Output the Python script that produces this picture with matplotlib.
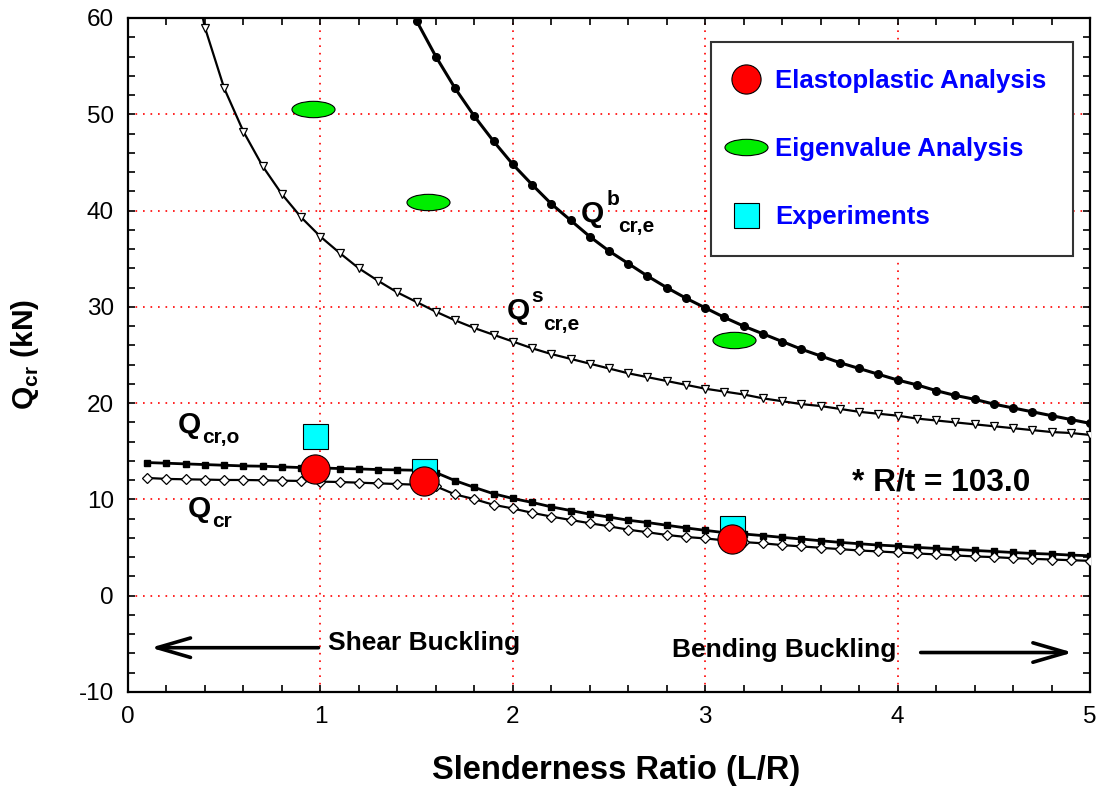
import numpy as np
import matplotlib
matplotlib.use("Agg")
import matplotlib.pyplot as plt
from matplotlib.lines import Line2D
from matplotlib.path import Path
from matplotlib.transforms import Affine2D

# ── Data ──────────────────────────────────────────────────────────────────────

# elastic bending buckling, Q^b_cr,e  (L/R = 1.5 .. 5.0)
x_bend = np.round(np.arange(1.5, 5.001, 0.1), 1)
q_bend = [59.7, 56.0, 52.7, 49.8, 47.2, 44.8, 42.7, 40.7, 39.0, 37.3,
          35.8, 34.5, 33.2, 32.0, 30.9, 29.9, 28.9, 28.0, 27.2, 26.4,
          25.6, 24.9, 24.2, 23.6, 23.0, 22.4, 21.9, 21.3, 20.8, 20.4,
          19.9, 19.5, 19.1, 18.7, 18.3, 17.9]

# elastic shear buckling, Q^s_cr,e  (L/R = 0.3 .. 5.0)
x_shear = np.round(np.arange(0.3, 5.001, 0.1), 1)
q_shear = [68.1, 59.0, 52.7, 48.2, 44.6, 41.7, 39.3, 37.3, 35.6, 34.0,
           32.7, 31.5, 30.5, 29.5, 28.6, 27.8, 27.1, 26.4, 25.7, 25.1,
           24.6, 24.1, 23.6, 23.1, 22.7, 22.3, 21.9, 21.5, 21.2, 20.9,
           20.5, 20.2, 19.9, 19.7, 19.4, 19.1, 18.9, 18.7, 18.4, 18.2,
           18.0, 17.8, 17.6, 17.4, 17.2, 17.0, 16.9, 16.7]

# Q_cr,o and Q_cr  (L/R = 0.1 .. 5.0)
x_cr = np.round(np.arange(0.1, 5.001, 0.1), 1)
q_cro = [13.83, 13.76, 13.69, 13.62, 13.55, 13.48, 13.45, 13.38, 13.31, 13.27,
         13.21, 13.17, 13.10, 13.07, 13.03, 12.79, 11.95, 11.25, 10.59, 10.10,
         9.69, 9.23, 8.85, 8.47, 8.17, 7.84, 7.60, 7.32, 7.04, 6.79,
         6.55, 6.41, 6.24, 6.06, 5.89, 5.71, 5.54, 5.40, 5.26, 5.16,
         5.02, 4.91, 4.81, 4.70, 4.60, 4.49, 4.39, 4.32, 4.22, 4.15]
q_cr = [12.23, 12.13, 12.09, 12.06, 12.02, 12.02, 11.99, 11.95, 11.92, 11.85,
        11.81, 11.74, 11.67, 11.60, 11.53, 11.36, 10.52, 10.03, 9.44, 9.06,
        8.61, 8.22, 7.87, 7.53, 7.21, 6.86, 6.59, 6.31, 6.10, 5.95,
        5.75, 5.57, 5.44, 5.26, 5.12, 4.98, 4.84, 4.70, 4.60, 4.49,
        4.39, 4.29, 4.18, 4.08, 4.01, 3.90, 3.83, 3.76, 3.69, 3.62]

# discrete results
x_elasto = [0.97, 1.54, 3.14]
q_elasto = [13.2, 11.9, 5.9]
x_eigen = [0.96, 1.56, 3.15]
q_eigen = [50.6, 40.9, 26.6]
x_exp = [0.97, 1.54, 3.14]
q_exp = [16.6, 13.0, 7.0]

# ── Style ─────────────────────────────────────────────────────────────────────

plt.rcParams["font.family"] = ["Liberation Sans", "DejaVu Sans"]
plt.rcParams["mathtext.fontset"] = "custom"
plt.rcParams["mathtext.bf"] = "Liberation Sans:bold"
plt.rcParams["mathtext.rm"] = "Liberation Sans"
plt.rcParams["axes.unicode_minus"] = False

ellipse_marker = Path.unit_circle().transformed(Affine2D().scale(1.0, 0.38))

fig = plt.figure(figsize=(11.01, 7.98), dpi=100)
ax = fig.add_axes([128 / 1101, 1 - 692 / 798, (1090 - 128) / 1101, (692 - 18) / 798])

# curves
ax.plot(x_bend, q_bend, color="black", lw=2.2, marker="o", ms=5.5,
        mfc="black", mec="black", zorder=3)
ax.plot(x_shear, q_shear, color="black", lw=1.6, marker="v", ms=6,
        mfc="white", mec="black", mew=0.9, zorder=3)
ax.plot(x_cr, q_cro, color="black", lw=2.0, marker="s", ms=5,
        mfc="black", mec="black", zorder=3)
ax.plot(x_cr, q_cr, color="black", lw=1.6, marker="D", ms=4.8,
        mfc="white", mec="black", mew=0.9, zorder=3)

# discrete points
ax.plot(x_eigen, q_eigen, ls="none", marker=ellipse_marker, ms=31,
        mfc="#00ee00", mec="black", mew=0.8, zorder=4)
ax.plot(x_exp, q_exp, ls="none", marker="s", ms=18,
        mfc="cyan", mec="black", mew=0.8, zorder=4)
ax.plot(x_elasto, q_elasto, ls="none", marker="o", ms=21,
        mfc="red", mec="black", mew=0.8, zorder=5)

# axes
ax.set_xlim(0, 5)
ax.set_ylim(-10, 60)
ax.set_xticks(np.arange(0, 5.1, 1))
ax.set_xticks(np.arange(0, 5.01, 0.2), minor=True)
ax.set_yticks(np.arange(-10, 61, 10))
ax.set_yticks(np.arange(-10, 61, 2), minor=True)
ax.tick_params(which="both", direction="in", top=True, right=True,
               length=5, width=1.2)
ax.tick_params(labelsize=17.5, pad=10)
ax.grid(True, which="major", color="red", ls=(0, (1, 3.5)), lw=1.2)
for sp in ax.spines.values():
    sp.set_linewidth(1.6)

ax.set_xlabel("Slenderness Ratio (L/R)", fontsize=23.5, fontweight="bold")
ax.xaxis.set_label_coords(0.507, -0.094)
ax.set_ylabel(r"$\mathbf{Q}_{\mathbf{cr}}$ (kN)", fontsize=21.5, fontweight="bold")
ax.yaxis.set_label_coords(-0.09, 0.5)


# curve labels: big Q with superscript / subscript placed by offset
def q_label(x, y, sub, sup=None):
    kw = dict(textcoords="offset points", fontweight="bold", va="baseline", ha="left")
    ax.annotate("Q", xy=(x, y), xytext=(0, 0), fontsize=21.5, **kw)
    if sup:
        ax.annotate(sup, xy=(x, y), xytext=(18, 12.3), fontsize=15, **kw)
        ax.annotate(sub, xy=(x, y), xytext=(26.5, -7.3), fontsize=15, **kw)
    else:
        ax.annotate(sub, xy=(x, y), xytext=(17.5, -7.5), fontsize=15, **kw)


q_label(2.355, 38.85, "cr,e", "b")
q_label(1.968, 28.7, "cr,e", "s")
q_label(0.26, 16.9, "cr,o")
q_label(0.313, 8.2, "cr")
ax.text(3.763, 10.9, "* R/t = 103.0", fontsize=22.8, fontweight="bold")

# buckling mode arrows
arrow_kw = dict(arrowstyle="->,head_length=1.2,head_width=0.35", lw=2.6,
                color="black", mutation_scale=20, shrinkA=0, shrinkB=0)
ax.annotate("", xy=(0.118, -5.4), xytext=(0.99, -5.4), arrowprops=arrow_kw)
ax.annotate("", xy=(4.91, -5.9), xytext=(4.12, -5.9), arrowprops=arrow_kw)
ax.text(1.04, -4.9, "Shear Buckling", fontsize=19, fontweight="bold", va="center")
ax.text(2.83, -5.6, "Bending Buckling", fontsize=19, fontweight="bold", va="center")

# legend
handles = [
    Line2D([], [], ls="none", marker="o", ms=21, mfc="red", mec="black", mew=0.8),
    Line2D([], [], ls="none", marker=ellipse_marker, ms=31, mfc="#00ee00",
           mec="black", mew=0.8),
    Line2D([], [], ls="none", marker="s", ms=18, mfc="cyan", mec="black", mew=0.8),
]
labels = ["Elastoplastic Analysis", "Eigenvalue Analysis", "Experiments"]
leg = ax.legend(handles, labels, loc="upper left", bbox_to_anchor=(0.606, 0.964),
                prop=dict(size=18.5, weight="bold"), labelcolor="blue",
                frameon=True, fancybox=False, edgecolor="#333333",
                framealpha=1, borderpad=1.05, labelspacing=1.7,
                handlelength=0.6, handletextpad=0.85, borderaxespad=0)
leg.get_frame().set_linewidth(1.5)

fig.savefig("out.png", dpi=100)
